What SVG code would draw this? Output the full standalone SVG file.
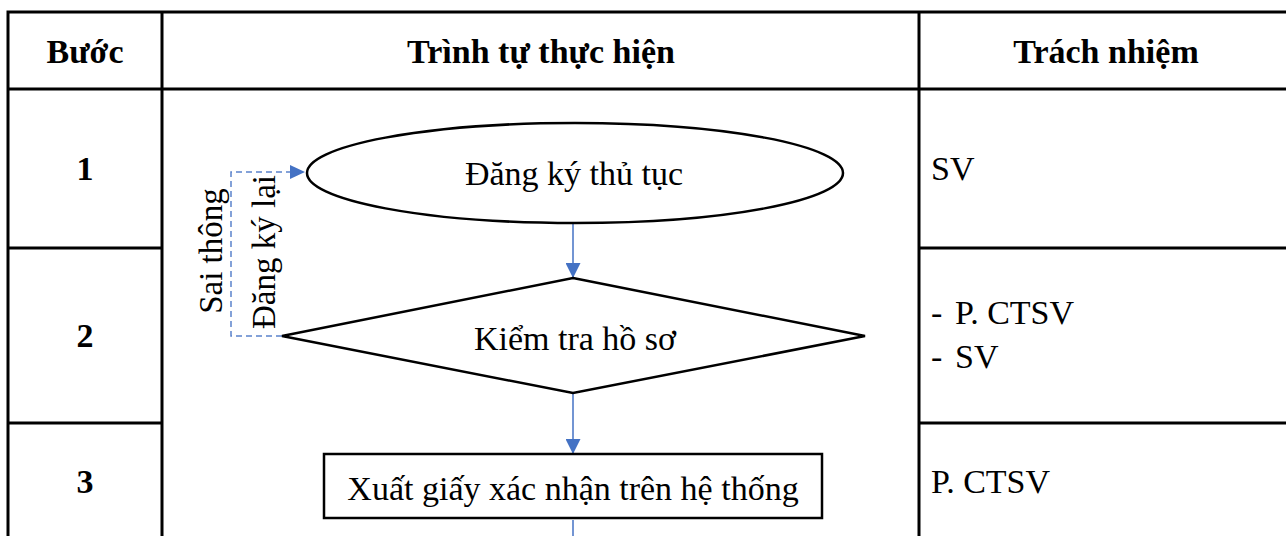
<svg xmlns="http://www.w3.org/2000/svg" width="1286" height="536" viewBox="0 0 1286 536">
<style>
.grid{stroke:#000;stroke-width:3;fill:none}
.shape{stroke:#000;stroke-width:2.5;fill:#fff}
.t{font-family:"Liberation Serif","Times New Roman",serif;font-size:34px;fill:#000}
.r{font-size:33px}
.b{font-weight:bold}
.m{text-anchor:middle}
.flow{stroke:#4472C4;stroke-width:1.5;fill:none}
.dash{stroke:#5b82cc;stroke-width:1.5;fill:none;stroke-dasharray:6 4}
</style>
<defs>
<marker id="ah" viewBox="0 0 10 10" refX="10" refY="5" markerWidth="15" markerHeight="14" markerUnits="userSpaceOnUse" orient="auto" preserveAspectRatio="none">
<path d="M0,0 L10,5 L0,10 z" fill="#4472C4"/>
</marker>
<marker id="ahv" viewBox="0 0 10 10" refX="10" refY="5" markerWidth="15" markerHeight="15" markerUnits="userSpaceOnUse" orient="auto">
<path d="M0,0 L10,5 L0,10 z" fill="#4472C4"/>
</marker>
</defs>
<rect width="1286" height="536" fill="#fff"/>
<g id="table">
<rect class="grid" x="8" y="12" width="1290" height="540"/>
<line class="grid" x1="162" y1="12" x2="162" y2="540"/>
<line class="grid" x1="919" y1="12" x2="919" y2="540"/>
<line class="grid" x1="8" y1="89" x2="1290" y2="89"/>
<line class="grid" x1="8" y1="248" x2="162" y2="248"/>
<line class="grid" x1="919" y1="248" x2="1290" y2="248"/>
<line class="grid" x1="8" y1="423" x2="162" y2="423"/>
<line class="grid" x1="919" y1="423" x2="1290" y2="423"/>
<text class="t b m" x="85" y="63">Bước</text>
<text class="t b m" x="541" y="63">Trình tự thực hiện</text>
<text class="t b m" x="1106" y="63">Trách nhiệm</text>
<text class="t b m" x="85" y="180">1</text>
<text class="t b m" x="85" y="347">2</text>
<text class="t b m" x="85" y="493">3</text>
<text class="t" x="931" y="180">SV</text>
<text class="t" x="931" y="324">-</text>
<text class="t" x="955" y="324">P. CTSV</text>
<text class="t" x="931" y="368">-</text>
<text class="t" x="955" y="368">SV</text>
<text class="t" x="931" y="493">P. CTSV</text>
</g>
<g id="connectors">
<line class="flow" x1="573" y1="223" x2="573" y2="278" marker-end="url(#ahv)"/>
<line class="flow" x1="573" y1="393" x2="573" y2="454" marker-end="url(#ahv)"/>
<line class="flow" x1="573" y1="520" x2="573" y2="540"/>
<path class="dash" d="M282,336 H231 V172 H305" marker-end="url(#ah)"/>
<text class="t r m" transform="translate(222,251) rotate(-90)">Sai thông</text>
<text class="t r m" transform="translate(275,252) rotate(-90)">Đăng ký lại</text>
</g>
<g id="n1">
<ellipse class="shape" cx="575" cy="173" rx="268" ry="50"/>
<text class="t m" x="574" y="185">Đăng ký thủ tục</text>
</g>
<g id="n2">
<polygon class="shape" points="573,278 865,336 573,393 282,336"/>
<text class="t m" x="575" y="350">Kiểm tra hồ sơ</text>
</g>
<g id="n3">
<rect class="shape" x="324" y="454" width="498" height="64"/>
<text class="t m" x="573" y="500">Xuất giấy xác nhận trên hệ thống</text>
</g>
</svg>
